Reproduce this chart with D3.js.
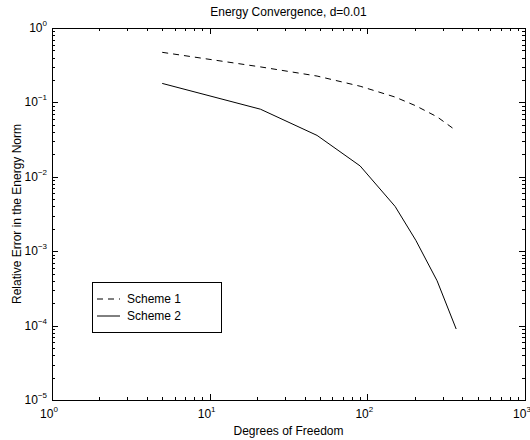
<!DOCTYPE html>
<html><head><meta charset="utf-8">
<script src="https://cdn.jsdelivr.net/npm/d3@7"></script>
<style>body{margin:0;background:#fff}svg{display:block}text{font-family:"Liberation Sans",Arial,sans-serif;fill:#000}</style>
</head><body><svg id="c" width="530" height="440"></svg>
<script>
const dof = [5, 21, 48, 90, 150, 203, 277, 366];
const scheme1 = [0.471, 0.30, 0.226, 0.165, 0.118, 0.090, 0.064, 0.0417];
const scheme2 = [0.18, 0.081, 0.036, 0.014, 0.0040, 0.0014, 0.00040, 0.00009];
const seriesNames = ["Scheme 1", "Scheme 2"];
const xTickExps = [0, 1, 2, 3];
const yTickExps = [0, -1, -2, -3, -4, -5];

const svg = d3.select("#c");
const L = 52, R = 525, T = 28, B = 400;
const x = d3.scaleLog().domain([1, 1000]).range([L, R]);
const y = d3.scaleLog().domain([1e-5, 1]).range([B, T]);

// minor ticks
const xMinor = [], yMinor = [];
for (let e = 0; e < 3; e++) for (let k = 2; k <= 9; k++) xMinor.push(k * Math.pow(10, e));
for (let e = -5; e < 0; e++) for (let k = 2; k <= 9; k++) yMinor.push(k * Math.pow(10, e));
const g = svg.append("g").attr("stroke", "#000").attr("stroke-width", 1);
const crisp = v => Math.round(v) + 0.5;
xMinor.forEach(v => {
  const px = crisp(x(v));
  g.append("line").attr("x1", px).attr("x2", px).attr("y1", B).attr("y2", B - 3);
  g.append("line").attr("x1", px).attr("x2", px).attr("y1", T).attr("y2", T + 3);
});
xTickExps.forEach(e => {
  const px = crisp(x(Math.pow(10, e)));
  g.append("line").attr("x1", px).attr("x2", px).attr("y1", B).attr("y2", B - 6);
  g.append("line").attr("x1", px).attr("x2", px).attr("y1", T).attr("y2", T + 6);
});
yMinor.forEach(v => {
  const py = crisp(y(v));
  g.append("line").attr("y1", py).attr("y2", py).attr("x1", L).attr("x2", L + 3);
  g.append("line").attr("y1", py).attr("y2", py).attr("x1", R).attr("x2", R - 3);
});
yTickExps.forEach(e => {
  const py = crisp(y(Math.pow(10, e)));
  g.append("line").attr("y1", py).attr("y2", py).attr("x1", L).attr("x2", L + 6);
  g.append("line").attr("y1", py).attr("y2", py).attr("x1", R).attr("x2", R - 6);
});
g.append("rect").attr("x", crisp(L)).attr("y", crisp(T)).attr("width", Math.round(R - L)).attr("height", Math.round(B - T)).attr("fill", "none");

// tick labels
xTickExps.forEach(e => {
  const t = svg.append("text").attr("x", x(Math.pow(10, e)) - 3).attr("y", 418).attr("text-anchor", "middle").attr("font-size", 12);
  t.append("tspan").text("10");
  t.append("tspan").attr("dy", -6).attr("font-size", 8).text(e);
});
yTickExps.forEach(e => {
  const t = svg.append("text").attr("x", 47).attr("y", y(Math.pow(10, e)) + 4).attr("text-anchor", "end").attr("font-size", 12);
  t.append("tspan").text("10");
  t.append("tspan").attr("dy", -6).attr("font-size", 8).text(e === 0 ? "0" : "\u2212" + (-e));
});

// lines
const line = d3.line().x(d => x(d[0])).y(d => y(d[1]));
svg.append("path").datum(dof.map((d, i) => [d, scheme1[i]])).attr("d", line)
  .attr("fill", "none").attr("stroke", "#000").attr("stroke-width", 1).attr("stroke-dasharray", "6,5");
svg.append("path").datum(dof.map((d, i) => [d, scheme2[i]])).attr("d", line)
  .attr("fill", "none").attr("stroke", "#000").attr("stroke-width", 1);

// titles
svg.append("text").attr("x", (L + R) / 2).attr("y", 16).attr("text-anchor", "middle").attr("font-size", 12).text("Energy Convergence, d=0.01");
svg.append("text").attr("x", (L + R) / 2).attr("y", 435).attr("text-anchor", "middle").attr("font-size", 12).text("Degrees of Freedom");
svg.append("text").attr("transform", `translate(21,${(T + B) / 2}) rotate(-90)`).attr("text-anchor", "middle").attr("font-size", 12).text("Relative Error in the Energy Norm");

// legend
const lg = svg.append("g");
lg.append("rect").attr("x", 92.5).attr("y", 282.5).attr("width", 129).attr("height", 50).attr("fill", "#fff").attr("stroke", "#000");
seriesNames.forEach((n, i) => {
  const yy = 299 + i * 17;
  lg.append("line").attr("x1", 97).attr("x2", 120).attr("y1", yy).attr("y2", yy).attr("stroke", "#000")
    .attr("stroke-dasharray", i === 0 ? "6,5" : null);
  lg.append("text").attr("x", 127).attr("y", yy + 4).attr("font-size", 12).text(n);
});
</script></body></html>
